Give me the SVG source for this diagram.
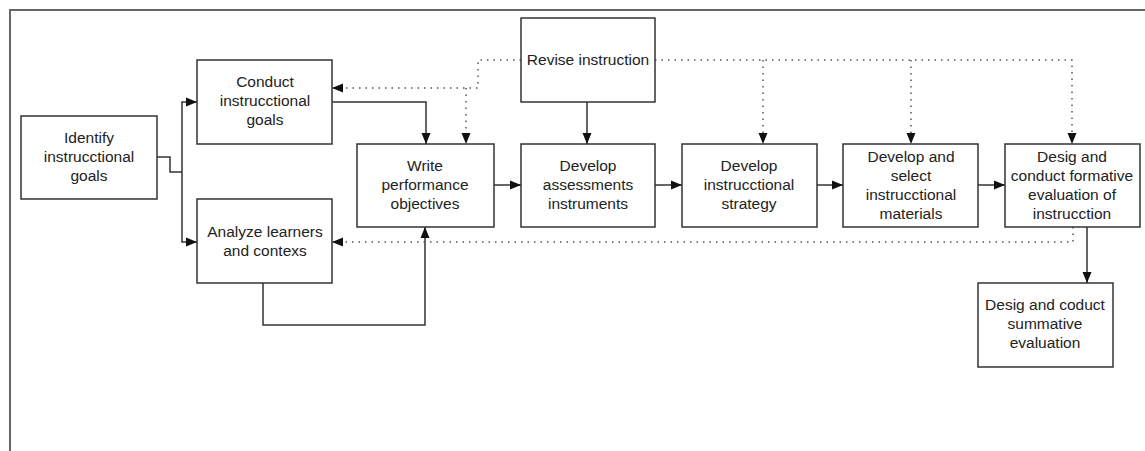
<svg xmlns="http://www.w3.org/2000/svg" width="1145" height="451" viewBox="0 0 1145 451">
<style>
.box{fill:#fff;stroke:#333;stroke-width:1.5}
.t{font-family:"Liberation Sans",Arial,sans-serif;font-size:15.5px;fill:#222;text-anchor:middle}
.c{fill:none;stroke:#333;stroke-width:1.5}
.d{fill:none;stroke:#555;stroke-width:1.5;stroke-dasharray:1.5 5}
</style>
<defs>
<marker id="ah" markerUnits="userSpaceOnUse" markerWidth="12" markerHeight="10" refX="11" refY="5" orient="auto">
<path d="M0,0.5 L11,5 L0,9.5 z" fill="#111" stroke="none"/>
</marker>
</defs>
<rect width="1145" height="451" fill="#fff"/>
<path d="M10,451 V10 H1145" fill="none" stroke="#666" stroke-width="2"/>
<g id="connectors">
<path class="c" d="M157,157 H170 V172 H182"/>
<path class="c" d="M182,172 V102 H197" marker-end="url(#ah)"/>
<path class="c" d="M182,172 V242 H197" marker-end="url(#ah)"/>
<path class="c" d="M332,102 H426 V144" marker-end="url(#ah)"/>
<path class="c" d="M587,102 V144" marker-end="url(#ah)"/>
<path class="c" d="M494,185 H521" marker-end="url(#ah)"/>
<path class="c" d="M655,185 H682" marker-end="url(#ah)"/>
<path class="c" d="M817,185 H843" marker-end="url(#ah)"/>
<path class="c" d="M978,185 H1005" marker-end="url(#ah)"/>
<path class="c" d="M1087,227 V283" marker-end="url(#ah)"/>
<path class="c" d="M263,283 V325 H425 V227" marker-end="url(#ah)"/>
<path class="d" d="M521,60 H478 V88 H332" marker-end="url(#ah)"/>
<path class="d" d="M466,88 V144" marker-end="url(#ah)"/>
<path class="d" d="M655,60 H1072 V144" marker-end="url(#ah)"/>
<path class="d" d="M763,60 V144" marker-end="url(#ah)"/>
<path class="d" d="M911,60 V144" marker-end="url(#ah)"/>
<path class="d" d="M1073,227 V242 H332" marker-end="url(#ah)"/>
</g>
<g id="identify"><rect class="box" x="21" y="116" width="136" height="83"/>
<text class="t" x="89" y="143">Identify</text><text class="t" x="89" y="162">instrucctional</text><text class="t" x="89" y="181">goals</text></g>
<g id="conduct"><rect class="box" x="197" y="60" width="135" height="84"/>
<text class="t" x="265" y="87">Conduct</text><text class="t" x="265" y="106">instrucctional</text><text class="t" x="265" y="125">goals</text></g>
<g id="analyze"><rect class="box" x="197" y="199" width="135" height="84"/>
<text class="t" x="265" y="237">Analyze learners</text><text class="t" x="265" y="256">and contexs</text></g>
<g id="revise"><rect class="box" x="521" y="18" width="134" height="84"/>
<text class="t" x="588" y="65">Revise instruction</text></g>
<g id="write"><rect class="box" x="357" y="144" width="137" height="83"/>
<text class="t" x="425" y="171">Write</text><text class="t" x="425" y="190">performance</text><text class="t" x="425" y="209">objectives</text></g>
<g id="assess"><rect class="box" x="521" y="144" width="134" height="83"/>
<text class="t" x="588" y="171">Develop</text><text class="t" x="588" y="190">assessments</text><text class="t" x="588" y="209">instruments</text></g>
<g id="strategy"><rect class="box" x="682" y="144" width="135" height="83"/>
<text class="t" x="749" y="171">Develop</text><text class="t" x="749" y="190">instrucctional</text><text class="t" x="749" y="209">strategy</text></g>
<g id="materials"><rect class="box" x="843" y="144" width="135" height="83"/>
<text class="t" x="911" y="162">Develop and</text><text class="t" x="911" y="181">select</text><text class="t" x="911" y="200">instrucctional</text><text class="t" x="911" y="219">materials</text></g>
<g id="formative"><rect class="box" x="1005" y="144" width="135" height="83"/>
<text class="t" x="1072" y="162">Desig and</text><text class="t" x="1072" y="181">conduct formative</text><text class="t" x="1072" y="200">evaluation of</text><text class="t" x="1072" y="219">instrucction</text></g>
<g id="summative"><rect class="box" x="978" y="283" width="135" height="84"/>
<text class="t" x="1045" y="310">Desig and coduct</text><text class="t" x="1045" y="329">summative</text><text class="t" x="1045" y="348">evaluation</text></g>
</svg>
